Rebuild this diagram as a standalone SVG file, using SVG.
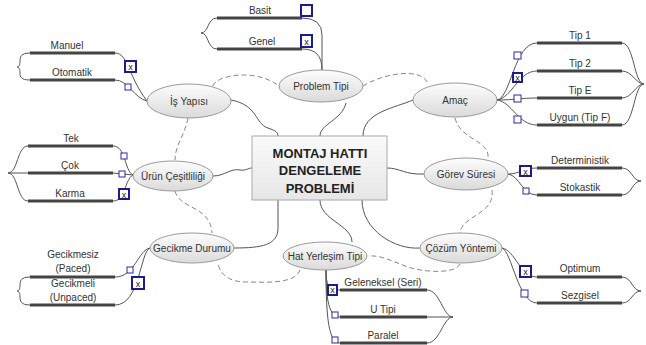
<svg xmlns="http://www.w3.org/2000/svg" width="646" height="345" viewBox="0 0 646 345">
<defs>
<linearGradient id="eg" x1="0" y1="0" x2="0" y2="1"><stop offset="0" stop-color="#fdfdfd"/><stop offset="1" stop-color="#dadada"/></linearGradient>
<linearGradient id="bg" x1="0" y1="0" x2="0" y2="1"><stop offset="0" stop-color="#fafafa"/><stop offset="1" stop-color="#e6e6e6"/></linearGradient>
</defs>
<style>
.el{fill:url(#eg);stroke:#9a9a9a;stroke-width:1}
.et{font-family:"Liberation Sans",Arial,sans-serif;font-size:10px;fill:#333;text-anchor:middle}
.lt{font-family:"Liberation Sans",Arial,sans-serif;font-size:10px;fill:#333;text-anchor:middle}
.ul{stroke:#444;stroke-width:3;fill:none}
.c{stroke:#555;stroke-width:1;fill:none}
.d{stroke:#888;stroke-width:1;fill:none;stroke-dasharray:5,3}
.cb{fill:#fff;stroke:#1c1c8c;stroke-width:2}
.cs{fill:#fff;stroke:#2a2aa0;stroke-width:1}
.x{font-family:"Liberation Sans",Arial,sans-serif;font-size:9px;fill:#222;text-anchor:middle}
.ct{font-family:"Liberation Sans",Arial,sans-serif;font-size:13px;font-weight:bold;fill:#222;text-anchor:middle}
</style>
<g id="connectors">
<!-- central -->
<path class="c" d="M231,100 C258,105 255,124 268,128 C277,131 278,133 278,136"/>
<path class="c" d="M320,136 C320,124 342,120 346,103"/>
<path class="c" d="M363,136 C363,112 395,108 413,100"/>
<path class="c" d="M213,176 C225,176 230,168 240,170 C246,171 248,168 252,168"/>
<path class="c" d="M387,168 C400,168 405,175 424,174"/>
<path class="c" d="M278,200 L278,228 C278,245 262,248 234,248"/>
<path class="c" d="M320,200 C320,220 352,225 352,242"/>
<path class="c" d="M362,200 C362,230 395,250 420,248"/>
<!-- dashed -->
<path class="d" d="M213,86 C216,75 256,68 279,86"/>
<path class="d" d="M363,86 C382,74 422,66 428,84"/>
<path class="d" d="M455,118 C460,140 490,140 488,158"/>
<path class="d" d="M492,190 C495,215 462,215 460,233"/>
<path class="d" d="M460,264 C455,275 420,272 405,266 C390,260 380,255 368,256"/>
<path class="d" d="M300,270 C295,285 262,282 246,282 C230,282 220,275 218,263"/>
<path class="d" d="M175,191 C180,210 210,205 212,233"/>
<path class="d" d="M188,118 C185,135 175,145 175,160"/>
<!-- Problem Tipi -->
<path class="c" d="M322,70 L322,35 Q322,18 302,18"/>
<path class="c" d="M322,70 C322,56 316,49 302,49" stroke="#999"/>
<path class="c" d="M217,18 C207,18 209,33 201,33 C209,33 207,49 217,49"/>
<!-- İş Yapısı -->
<path class="c" d="M115,53 C128,53 128,76 147,101"/>
<path class="c" d="M115,80 C128,80 134,98 147,101"/>
<path class="c" d="M30,53 C21,53 20,57 20,61 C20,65 19,67 17,67 C19,67 20,69 20,73 C20,77 21,80 30,80"/>
<!-- Amaç -->
<path class="c" d="M497,100 C511,98 514,43 537,43"/>
<path class="c" d="M497,100 C512,98 518,71 537,71"/>
<path class="c" d="M497,100 C515,100 520,98 537,98"/>
<path class="c" d="M497,100 C512,102 518,125 537,125"/>
<path class="c" d="M622,43 C634,43 634,84 644,84 M622,71 C632,71 636,84 644,84 M622,98 C632,98 636,84 644,84 M622,125 C634,125 634,84 644,84"/>
<!-- Ürün -->
<path class="c" d="M133,175 C124,170 126,146 113,146"/>
<path class="c" d="M133,175 L113,173"/>
<path class="c" d="M133,175 C124,180 126,201 113,201"/>
<path class="c" d="M28,146 C17,146 18,173 8,173 M28,173 L8,173 M28,201 C17,201 18,173 8,173"/>
<!-- Görev -->
<path class="c" d="M508,174 C520,174 522,168 537,168"/>
<path class="c" d="M508,174 C520,176 522,195 537,195"/>
<path class="c" d="M622,168 C632,168 632,181 641,181 C632,181 632,195 622,195"/>
<!-- Gecikme -->
<path class="c" d="M150,248 C138,250 135,277 115,277"/>
<path class="c" d="M150,248 C140,252 140,305 115,305"/>
<path class="c" d="M30,277 C21,277 20,281 20,285 C20,289 19,291 17,291 C19,291 20,293 20,297 C20,301 21,305 30,305"/>
<!-- Hat -->
<path class="c" d="M326,270 C326,284 328,290 340,290"/>
<path class="c" d="M326,270 C326,300 329,317 340,317"/>
<path class="c" d="M326,270 C326,320 329,343 340,343"/>
<path class="c" d="M427,290 C440,290 443,317 453,317 M427,317 L453,317 M427,343 C440,343 443,317 453,317"/>
<!-- Çözüm -->
<path class="c" d="M502,248 C515,250 520,277 537,277"/>
<path class="c" d="M502,248 C512,252 518,303 537,303"/>
<path class="c" d="M622,277 C632,277 632,291 641,291 C632,291 632,303 622,303"/>
</g>
<g id="center">
<rect x="252" y="136" width="135" height="64" fill="url(#bg)" stroke="#aaa"/>
<text class="ct" x="320" y="158">MONTAJ HATTI</text>
<text class="ct" x="320" y="175">DENGELEME</text>
<text class="ct" x="320" y="193">PROBLEMİ</text>
</g>
<g id="problem-tipi">
<ellipse class="el" cx="321" cy="86" rx="42" ry="16"/>
<text class="et" x="321" y="90">Problem Tipi</text>
<path class="ul" d="M217,18 H302 M217,49 H302"/>
<text class="lt" x="260" y="14">Basit</text>
<text class="lt" x="262" y="45">Genel</text>
<rect class="cb" x="301" y="5" width="11" height="11"/>
<rect class="cb" x="301" y="35" width="11" height="12"/>
<text class="x" x="306.5" y="44.5">x</text>
</g>
<g id="is-yapisi">
<ellipse class="el" cx="189" cy="101" rx="42" ry="17"/>
<text class="et" x="189" y="105">İş Yapısı</text>
<path class="ul" d="M30,53 H115 M30,80 H115"/>
<text class="lt" x="67" y="49">Manuel</text>
<text class="lt" x="72" y="76">Otomatik</text>
<rect class="cb" x="125" y="61" width="11" height="11"/>
<text class="x" x="130.5" y="70">x</text>
<rect class="cs" x="125" y="84" width="6" height="6"/>
</g>
<g id="amac">
<ellipse class="el" cx="455" cy="100" rx="42" ry="17"/>
<text class="et" x="455" y="104">Amaç</text>
<path class="ul" d="M537,43 H622 M537,71 H622 M537,98 H622 M537,125 H622"/>
<text class="lt" x="580" y="39">Tip 1</text>
<text class="lt" x="580" y="67">Tip 2</text>
<text class="lt" x="580" y="94">Tip E</text>
<text class="lt" x="580" y="121" font-size="11">Uygun (Tip F)</text>
<rect class="cs" x="514" y="52" width="7" height="7"/>
<rect class="cb" x="513" y="73" width="9" height="9"/>
<text class="x" x="517.5" y="81">x</text>
<rect class="cs" x="514" y="95" width="7" height="7"/>
<rect class="cs" x="514" y="116" width="7" height="7"/>
</g>
<g id="urun-cesitliligi">
<ellipse class="el" cx="173" cy="176" rx="40" ry="15"/>
<text class="et" x="173" y="180">Ürün Çeşitliliği</text>
<path class="ul" d="M28,146 H113 M28,173 H113 M28,201 H113"/>
<text class="lt" x="71" y="142">Tek</text>
<text class="lt" x="70" y="169">Çok</text>
<text class="lt" x="70" y="197">Karma</text>
<rect class="cs" x="121" y="153" width="6" height="6"/>
<rect class="cs" x="119" y="171" width="6" height="6"/>
<rect class="cb" x="119" y="189" width="10" height="10"/>
<text class="x" x="124" y="197.5">x</text>
</g>
<g id="gorev-suresi">
<ellipse class="el" cx="466" cy="174" rx="42" ry="16"/>
<text class="et" x="466" y="178">Görev Süresi</text>
<path class="ul" d="M537,168 H622 M537,195 H622"/>
<text class="lt" x="580" y="164">Deterministik</text>
<text class="lt" x="580" y="191">Stokastik</text>
<rect class="cb" x="520" y="166" width="11" height="10"/>
<text class="x" x="525.5" y="174.5">x</text>
<rect class="cs" x="523" y="188" width="6" height="6"/>
</g>
<g id="gecikme-durumu">
<ellipse class="el" cx="192" cy="248" rx="42" ry="15"/>
<text class="et" x="192" y="252">Gecikme Durumu</text>
<path class="ul" d="M30,277 H115 M30,305 H115"/>
<text class="lt" x="73" y="258">Gecikmesiz</text>
<text class="lt" x="73" y="272">(Paced)</text>
<text class="lt" x="73" y="287">Gecikmeli</text>
<text class="lt" x="73" y="301">(Unpaced)</text>
<rect class="cs" x="127" y="267" width="6" height="6"/>
<rect class="cb" x="132" y="277" width="12" height="12"/>
<text class="x" x="138" y="286.5">x</text>
</g>
<g id="hat-yerlesim-tipi">
<ellipse class="el" cx="325" cy="256" rx="42" ry="14"/>
<text class="et" x="325" y="260">Hat Yerleşim Tipi</text>
<path class="ul" d="M340,290 H427 M340,317 H427 M340,343 H427"/>
<text class="lt" x="383" y="286">Geleneksel (Seri)</text>
<text class="lt" x="383" y="313">U Tipi</text>
<text class="lt" x="383" y="339">Paralel</text>
<rect class="cb" x="328" y="285" width="9" height="10"/>
<text class="x" x="332.5" y="293">x</text>
<rect class="cs" x="332" y="312" width="6" height="6"/>
<rect class="cs" x="332" y="337" width="6" height="6"/>
</g>
<g id="cozum-yontemi">
<ellipse class="el" cx="461" cy="248" rx="41" ry="15"/>
<text class="et" x="461" y="252">Çözüm Yöntemi</text>
<path class="ul" d="M537,277 H622 M537,303 H622"/>
<text class="lt" x="580" y="272">Optimum</text>
<text class="lt" x="580" y="299">Sezgisel</text>
<rect class="cb" x="520" y="266" width="11" height="11"/>
<text class="x" x="525.5" y="275">x</text>
<rect class="cs" x="521" y="290" width="7" height="7"/>
</g>
</svg>
